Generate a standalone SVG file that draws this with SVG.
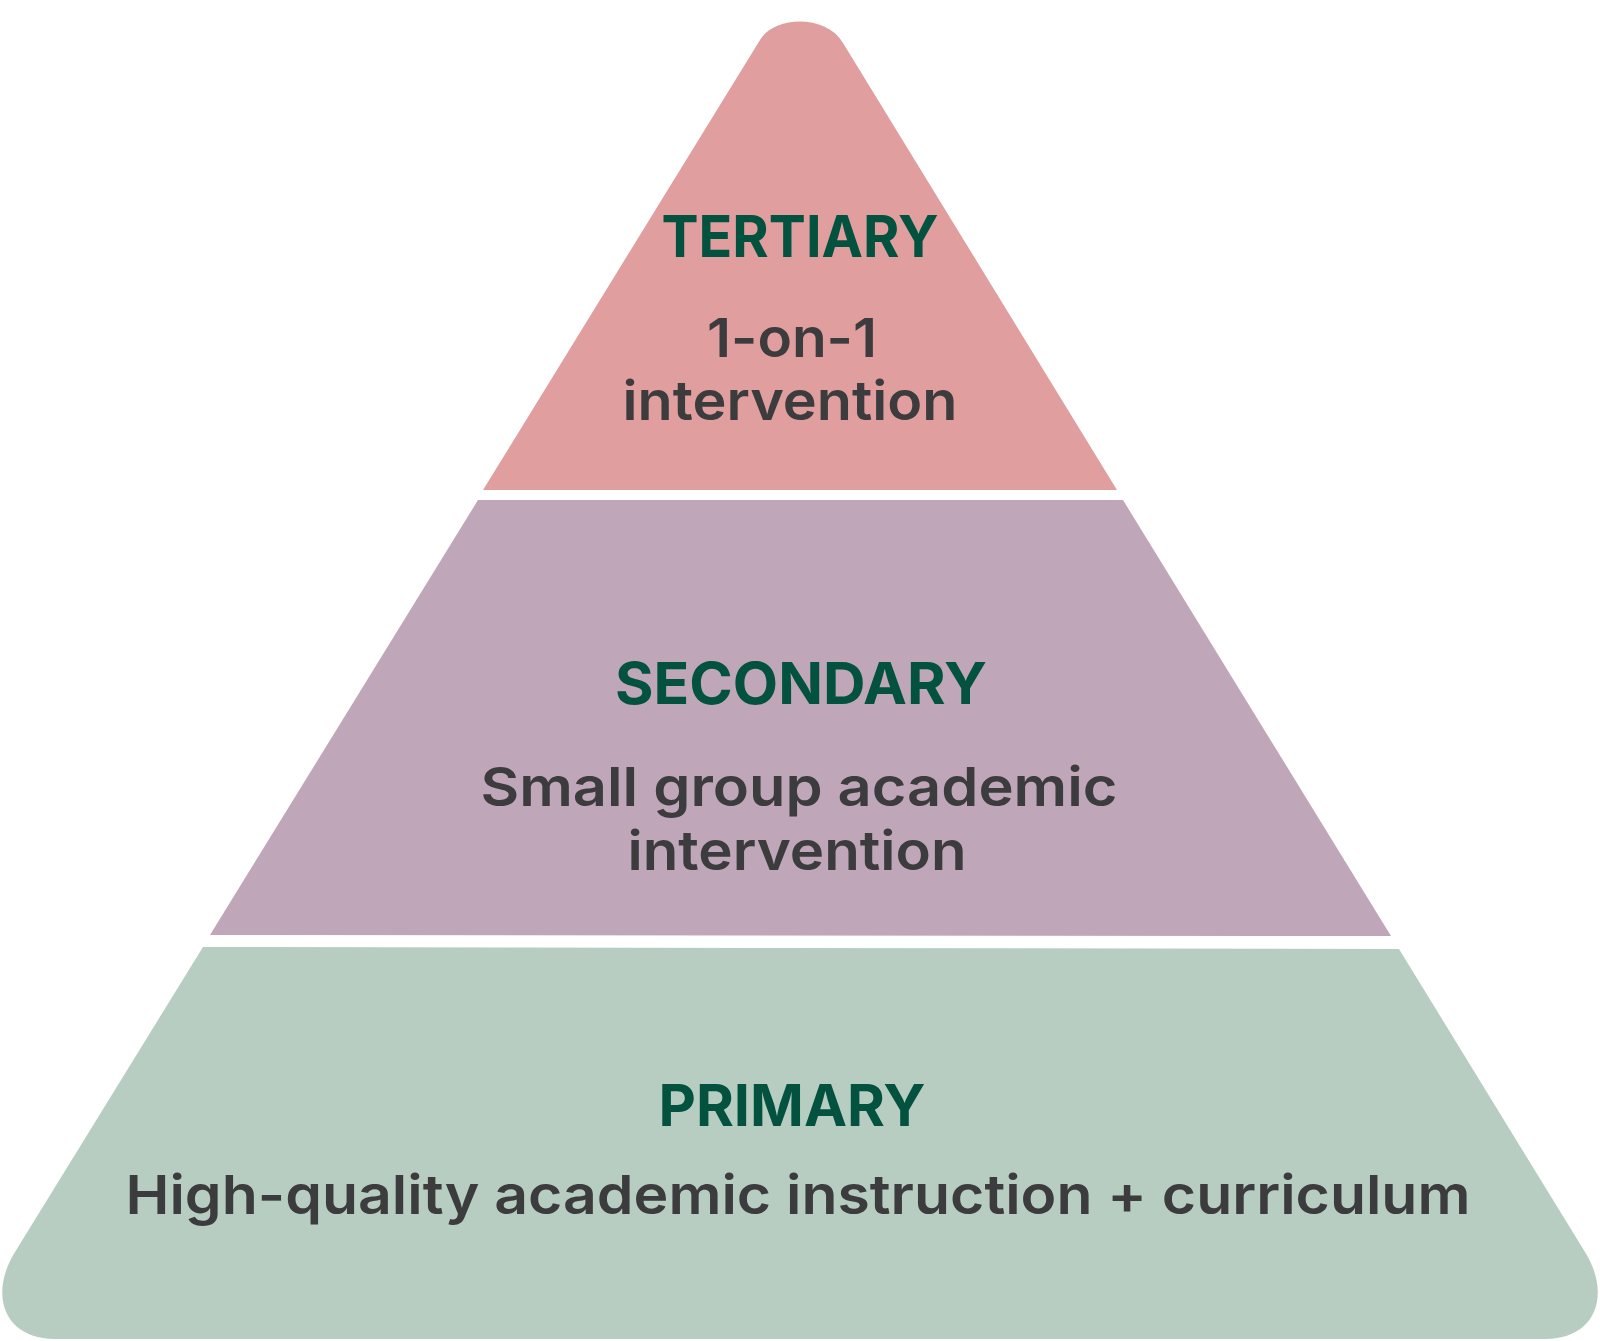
<svg xmlns="http://www.w3.org/2000/svg" width="1600" height="1341" viewBox="0 0 1600 1341">
<style>
.title{font-family:Inter,"Noto Sans",sans-serif;font-weight:700;font-size:58px;fill:#03523F;text-anchor:middle}
.body{font-family:Inter,"Noto Sans",sans-serif;font-weight:600;font-size:54px;fill:#3C3B3D;text-anchor:middle}
</style>
<rect width="1600" height="1341" fill="#FFFFFF"/>
<g id="tertiary">
<path d="M760,40 C774,16 826,14 843,43 L1117,490 L483,490 Z" fill="#E09E9E"/>
<text class="title" x="800" y="257" textLength="277" lengthAdjust="spacingAndGlyphs">TERTIARY</text>
<text class="body" x="792" y="357" textLength="170" lengthAdjust="spacingAndGlyphs">1-on-1</text>
<text class="body" x="790" y="420" textLength="335" lengthAdjust="spacingAndGlyphs">intervention</text>
</g>
<g id="secondary">
<path d="M478,500 L1123,500 L1391,936 L210,935 Z" fill="#BFA6B8"/>
<text class="title" x="801" y="704" textLength="372" lengthAdjust="spacingAndGlyphs">SECONDARY</text>
<text class="body" x="799" y="806" textLength="637" lengthAdjust="spacingAndGlyphs">Small group academic</text>
<text class="body" x="797" y="870" textLength="339" lengthAdjust="spacingAndGlyphs">intervention</text>
</g>
<g id="primary">
<path d="M203,947 L1399,949 L1585,1252 C1612,1296 1595,1339 1545,1339 L55,1339 C5,1339 -12,1296 15,1252 Z" fill="#B7CDC1"/>
<text class="title" x="792" y="1126" textLength="267" lengthAdjust="spacingAndGlyphs">PRIMARY</text>
<text class="body" x="798" y="1214" textLength="1345" lengthAdjust="spacingAndGlyphs">High-quality academic instruction + curriculum</text>
</g>
<g id="connectors"/>
</svg>
